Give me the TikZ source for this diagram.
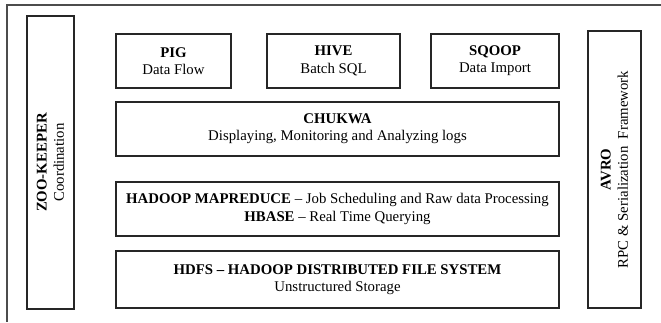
\documentclass[tikz,border=0pt]{standalone}
\usepackage{fontspec}
\setmainfont{Liberation Serif}
\usepackage{tikz}
\usetikzlibrary{positioning}

\begin{document}
\begin{tikzpicture}[
    x=0.75pt, y=-0.75pt,
    layer/.style={
        rectangle, draw=black!85, line width=0.8pt, fill=white,
        inner sep=0pt, align=center,
        font=\fontsize{11.1}{13}\selectfont},
    tool/.style={layer, minimum height=40.5pt},
    side/.style={layer, rotate=90},
    frame/.style={draw=black!70, line width=0.9pt}]
  \useasboundingbox (0,0) rectangle (661,322);
  % Marco exterior
  \coordinate (fnw) at (7,5);
  \coordinate (fne) at (661,5);
  \coordinate (fsw) at (7,322);
  \draw[frame] (fne) -- (fnw) -- (fsw);
  % Columnas laterales
  \node[side, minimum width=219.75pt, minimum height=35.25pt] (zoo) at (50.5,162.5)
    {\textbf{ZOO-KEEPER}\\Coordination};
  \node[side, minimum width=207.75pt, minimum height=39.75pt] (avro) at (614.5,169.5)
    {\textbf{AVRO}\\RPC \& Serialization\ \ Framework};
  % Herramientas superiores
  \node[tool, minimum width=86.25pt] (pig) at (173.5,61) {\textbf{PIG}\\Data Flow};
  \node[tool, minimum width=99.75pt] (hive) at (333.5,61) {\textbf{HIVE}\\Batch SQL};
  \node[tool, minimum width=96pt] (sqoop) at (495,61) {\textbf{SQOOP}\\Data Import};
  % Capas horizontales
  \node[tool, minimum width=332.25pt] (chukwa) at (337.5,129)
    {\textbf{CHUKWA}\\Displaying, Monitoring and Analyzing logs};
  \node[tool, minimum width=332.25pt] (mapred) at (337.5,209)
    {\textbf{HADOOP MAPREDUCE} -- Job Scheduling and Raw data Processing\\
     \textbf{HBASE} -- Real Time Querying};
  \node[tool, minimum width=332.25pt, minimum height=42.75pt] (hdfs) at (337.5,279.5)
    {\textbf{HDFS -- HADOOP DISTRIBUTED FILE SYSTEM}\\Unstructured Storage};
\end{tikzpicture}
\end{document}
